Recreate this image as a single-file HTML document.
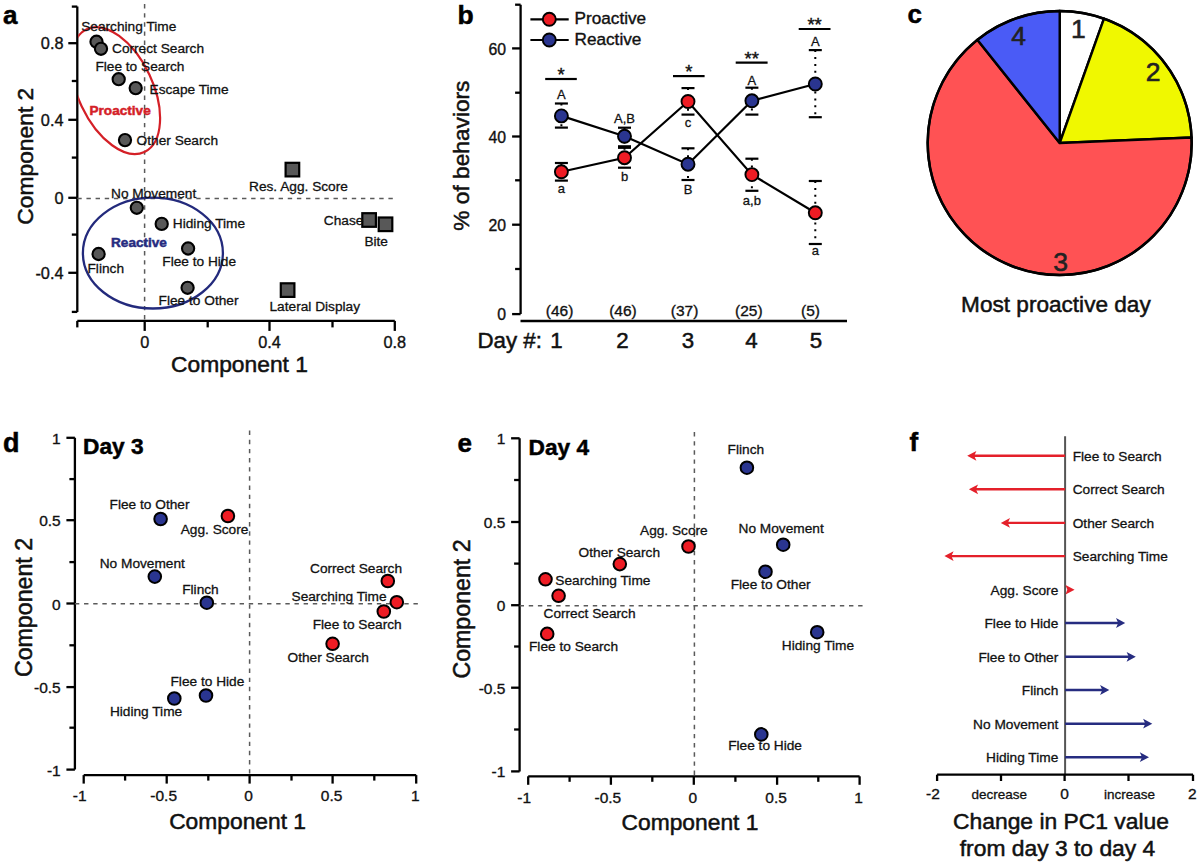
<!DOCTYPE html>
<html><head><meta charset="utf-8"><style>
html,body{margin:0;padding:0;background:#fff;width:1200px;height:867px;overflow:hidden}
svg{display:block}
text{font-family:"Liberation Sans", sans-serif}
</style></head><body>
<svg width="1200" height="867" viewBox="0 0 1200 867">
<rect width="1200" height="867" fill="#fff"/>
<text x="3" y="24" font-size="26" text-anchor="start" font-weight="bold" fill="#000" stroke="#000" stroke-width="0.50" >a</text>
<line x1="77.3" y1="6.6" x2="77.3" y2="312" stroke="#000" stroke-width="2.3" />
<line x1="71.8" y1="6.6" x2="77.3" y2="6.6" stroke="#000" stroke-width="2.3" />
<line x1="68.3" y1="43.2" x2="77.3" y2="43.2" stroke="#000" stroke-width="2.3" />
<line x1="71.8" y1="81" x2="77.3" y2="81" stroke="#000" stroke-width="2.3" />
<line x1="68.3" y1="119.8" x2="77.3" y2="119.8" stroke="#000" stroke-width="2.3" />
<line x1="71.8" y1="157.6" x2="77.3" y2="157.6" stroke="#000" stroke-width="2.3" />
<line x1="68.3" y1="197.8" x2="77.3" y2="197.8" stroke="#000" stroke-width="2.3" />
<line x1="71.8" y1="234.6" x2="77.3" y2="234.6" stroke="#000" stroke-width="2.3" />
<line x1="68.3" y1="272.8" x2="77.3" y2="272.8" stroke="#000" stroke-width="2.3" />
<line x1="71.8" y1="311.9" x2="77.3" y2="311.9" stroke="#000" stroke-width="2.3" />
<text x="63.5" y="49.0" font-size="16.3" text-anchor="end" font-weight="normal" fill="#111" stroke="#111" stroke-width="0.36" >0.8</text>
<text x="63.5" y="125.6" font-size="16.3" text-anchor="end" font-weight="normal" fill="#111" stroke="#111" stroke-width="0.36" >0.4</text>
<text x="63.5" y="203.60000000000002" font-size="16.3" text-anchor="end" font-weight="normal" fill="#111" stroke="#111" stroke-width="0.36" >0</text>
<text x="63.5" y="278.6" font-size="16.3" text-anchor="end" font-weight="normal" fill="#111" stroke="#111" stroke-width="0.36" >-0.4</text>
<line x1="77.3" y1="320.9" x2="394.8" y2="320.9" stroke="#000" stroke-width="2.3" />
<line x1="77.3" y1="320.9" x2="77.3" y2="327.4" stroke="#000" stroke-width="2.3" />
<line x1="144.7" y1="320.9" x2="144.7" y2="330.9" stroke="#000" stroke-width="2.3" />
<line x1="207.7" y1="320.9" x2="207.7" y2="327.4" stroke="#000" stroke-width="2.3" />
<line x1="269.5" y1="320.9" x2="269.5" y2="330.9" stroke="#000" stroke-width="2.3" />
<line x1="332.5" y1="320.9" x2="332.5" y2="327.4" stroke="#000" stroke-width="2.3" />
<line x1="394.8" y1="320.9" x2="394.8" y2="330.9" stroke="#000" stroke-width="2.3" />
<text x="144.7" y="348.3" font-size="16.3" text-anchor="middle" font-weight="normal" fill="#111" stroke="#111" stroke-width="0.36" >0</text>
<text x="269.5" y="348.3" font-size="16.3" text-anchor="middle" font-weight="normal" fill="#111" stroke="#111" stroke-width="0.36" >0.4</text>
<text x="394.8" y="348.3" font-size="16.3" text-anchor="middle" font-weight="normal" fill="#111" stroke="#111" stroke-width="0.36" >0.8</text>
<text x="239.5" y="372.2" font-size="22.8" text-anchor="middle" font-weight="normal" fill="#111" stroke="#111" stroke-width="0.51" >Component 1</text>
<text x="0" y="0" font-size="22.8" text-anchor="middle" font-weight="normal" fill="#111" stroke="#111" stroke-width="0.51" transform="translate(33,156.2) rotate(-90)">Component 2</text>
<line x1="144.6" y1="4" x2="144.6" y2="320" stroke="#5a5a5a" stroke-width="1.5" stroke-dasharray="4.4,4.75"/>
<line x1="77.3" y1="198.6" x2="393" y2="198.6" stroke="#5a5a5a" stroke-width="1.5" stroke-dasharray="4.4,4.75"/>
<clipPath id="ca"><rect x="78.2" y="0" width="400" height="400"/></clipPath>
<g clip-path="url(#ca)"><ellipse cx="115.6" cy="90.6" rx="67.8" ry="37.4" transform="rotate(64.8 115.6 90.6)" fill="none" stroke="#d42027" stroke-width="2.2"/></g>
<ellipse cx="152.9" cy="253.1" rx="70" ry="55.4" fill="none" stroke="#232a7c" stroke-width="2.3"/>
<circle cx="96.5" cy="41.7" r="6.1" fill="#585858" stroke="#000" stroke-width="2.1"/>
<circle cx="101" cy="48.8" r="6.1" fill="#585858" stroke="#000" stroke-width="2.1"/>
<circle cx="118.7" cy="79.2" r="6.1" fill="#585858" stroke="#000" stroke-width="2.1"/>
<circle cx="135.7" cy="88.1" r="6.1" fill="#585858" stroke="#000" stroke-width="2.1"/>
<circle cx="125" cy="140.1" r="6.1" fill="#585858" stroke="#000" stroke-width="2.1"/>
<circle cx="136.8" cy="207.8" r="6.1" fill="#585858" stroke="#000" stroke-width="2.1"/>
<circle cx="161.7" cy="223.9" r="6.1" fill="#585858" stroke="#000" stroke-width="2.1"/>
<circle cx="98.6" cy="254" r="6.1" fill="#585858" stroke="#000" stroke-width="2.1"/>
<circle cx="188.1" cy="248.5" r="6.1" fill="#585858" stroke="#000" stroke-width="2.1"/>
<circle cx="187.6" cy="287.8" r="6.1" fill="#585858" stroke="#000" stroke-width="2.1"/>
<rect x="285.59999999999997" y="162.79999999999998" width="13.6" height="13.6" fill="#585858" stroke="#000" stroke-width="2.2"/>
<rect x="362.3" y="213.2" width="13.6" height="13.6" fill="#585858" stroke="#000" stroke-width="2.2"/>
<rect x="378.7" y="217.5" width="13.6" height="13.6" fill="#585858" stroke="#000" stroke-width="2.2"/>
<rect x="280.8" y="283.3" width="13.6" height="13.6" fill="#585858" stroke="#000" stroke-width="2.2"/>
<text x="81.2" y="31.2" font-size="13.7" text-anchor="start" font-weight="normal" fill="#111" stroke="#111" stroke-width="0.30" >Searching Time</text>
<text x="112" y="53.4" font-size="13.7" text-anchor="start" font-weight="normal" fill="#111" stroke="#111" stroke-width="0.30" >Correct Search</text>
<text x="95.4" y="70.9" font-size="13.7" text-anchor="start" font-weight="normal" fill="#111" stroke="#111" stroke-width="0.30" >Flee to Search</text>
<text x="149.5" y="94" font-size="13.7" text-anchor="start" font-weight="normal" fill="#111" stroke="#111" stroke-width="0.30" >Escape Time</text>
<text x="136.6" y="144.7" font-size="13.7" text-anchor="start" font-weight="normal" fill="#111" stroke="#111" stroke-width="0.30" >Other Search</text>
<text x="111" y="197.7" font-size="13.7" text-anchor="start" font-weight="normal" fill="#111" stroke="#111" stroke-width="0.30" >No Movement</text>
<text x="172.8" y="227.6" font-size="13.7" text-anchor="start" font-weight="normal" fill="#111" stroke="#111" stroke-width="0.30" >Hiding Time</text>
<text x="87.5" y="273.4" font-size="13.7" text-anchor="start" font-weight="normal" fill="#111" stroke="#111" stroke-width="0.30" >Flinch</text>
<text x="162.3" y="266.4" font-size="13.7" text-anchor="start" font-weight="normal" fill="#111" stroke="#111" stroke-width="0.30" >Flee to Hide</text>
<text x="158.6" y="304.8" font-size="13.7" text-anchor="start" font-weight="normal" fill="#111" stroke="#111" stroke-width="0.30" >Flee to Other</text>
<text x="249" y="191" font-size="13.7" text-anchor="start" font-weight="normal" fill="#111" stroke="#111" stroke-width="0.30" >Res. Agg. Score</text>
<text x="323.8" y="224.8" font-size="13.7" text-anchor="start" font-weight="normal" fill="#111" stroke="#111" stroke-width="0.30" >Chase</text>
<text x="364.4" y="246" font-size="13.7" text-anchor="start" font-weight="normal" fill="#111" stroke="#111" stroke-width="0.30" >Bite</text>
<text x="269.5" y="310.5" font-size="13.7" text-anchor="start" font-weight="normal" fill="#111" stroke="#111" stroke-width="0.30" >Lateral Display</text>
<text x="89.5" y="115.2" font-size="13.6" text-anchor="start" font-weight="bold" fill="#d42027" stroke="#d42027" stroke-width="0.50" >Proactive</text>
<text x="111" y="246.6" font-size="13.6" text-anchor="start" font-weight="bold" fill="#262b7f" stroke="#262b7f" stroke-width="0.50" >Reactive</text>
<text x="457.5" y="23.5" font-size="26.5" text-anchor="start" font-weight="bold" fill="#000" stroke="#000" stroke-width="0.50" >b</text>
<line x1="520.6" y1="4.7" x2="520.6" y2="314.1" stroke="#000" stroke-width="2.3" />
<line x1="515.1" y1="4.7" x2="520.6" y2="4.7" stroke="#000" stroke-width="2.3" />
<line x1="512.1" y1="48.4" x2="520.6" y2="48.4" stroke="#000" stroke-width="2.3" />
<text x="506" y="54.6" font-size="15.8" text-anchor="end" font-weight="normal" fill="#111" stroke="#111" stroke-width="0.35" >60</text>
<line x1="515.1" y1="92.7" x2="520.6" y2="92.7" stroke="#000" stroke-width="2.3" />
<line x1="512.1" y1="136.5" x2="520.6" y2="136.5" stroke="#000" stroke-width="2.3" />
<text x="506" y="142.7" font-size="15.8" text-anchor="end" font-weight="normal" fill="#111" stroke="#111" stroke-width="0.35" >40</text>
<line x1="515.1" y1="180.3" x2="520.6" y2="180.3" stroke="#000" stroke-width="2.3" />
<line x1="512.1" y1="224.7" x2="520.6" y2="224.7" stroke="#000" stroke-width="2.3" />
<text x="506" y="230.89999999999998" font-size="15.8" text-anchor="end" font-weight="normal" fill="#111" stroke="#111" stroke-width="0.35" >20</text>
<line x1="515.1" y1="269" x2="520.6" y2="269" stroke="#000" stroke-width="2.3" />
<line x1="512.1" y1="314.1" x2="520.6" y2="314.1" stroke="#000" stroke-width="2.3" />
<text x="506" y="320.3" font-size="15.8" text-anchor="end" font-weight="normal" fill="#111" stroke="#111" stroke-width="0.35" >0</text>
<text x="0" y="0" font-size="22.7" text-anchor="middle" font-weight="normal" fill="#111" stroke="#111" stroke-width="0.50" transform="translate(469,155.6) rotate(-90)">% of behaviors</text>
<line x1="520.5" y1="321" x2="847" y2="321" stroke="#000" stroke-width="2.3" />
<line x1="561.4" y1="103.5" x2="561.4" y2="127.6" stroke="#000" stroke-width="2" stroke-dasharray="2,4.9"/>
<line x1="561.4" y1="163" x2="561.4" y2="180.6" stroke="#000" stroke-width="2" stroke-dasharray="2,4.9"/>
<line x1="624.5" y1="127.7" x2="624.5" y2="146.3" stroke="#000" stroke-width="2" stroke-dasharray="2,4.9"/>
<line x1="624.5" y1="147.8" x2="624.5" y2="167.7" stroke="#000" stroke-width="2" stroke-dasharray="2,4.9"/>
<line x1="688" y1="148.3" x2="688" y2="180" stroke="#000" stroke-width="2" stroke-dasharray="2,4.9"/>
<line x1="688" y1="88.1" x2="688" y2="114.6" stroke="#000" stroke-width="2" stroke-dasharray="2,4.9"/>
<line x1="751.9" y1="87.7" x2="751.9" y2="114.6" stroke="#000" stroke-width="2" stroke-dasharray="2,4.9"/>
<line x1="751.9" y1="158.7" x2="751.9" y2="190.8" stroke="#000" stroke-width="2" stroke-dasharray="2,4.9"/>
<line x1="815.3" y1="50.1" x2="815.3" y2="117.2" stroke="#000" stroke-width="2" stroke-dasharray="2,4.9"/>
<line x1="815.3" y1="181" x2="815.3" y2="244" stroke="#000" stroke-width="2" stroke-dasharray="2,4.9"/>
<polyline points="561.4,115.9 624.5,136.3 688,164.2 751.9,100.8 815.3,84" fill="none" stroke="#000" stroke-width="2.2"/>
<polyline points="561.4,171.8 624.5,157.7 688,101.5 751.9,174.6 815.3,212.8" fill="none" stroke="#000" stroke-width="2.2"/>
<line x1="554.9" y1="103.5" x2="567.9" y2="103.5" stroke="#000" stroke-width="2.2" />
<line x1="554.9" y1="127.6" x2="567.9" y2="127.6" stroke="#000" stroke-width="2.2" />
<line x1="554.9" y1="163" x2="567.9" y2="163" stroke="#000" stroke-width="2.2" />
<line x1="554.9" y1="180.6" x2="567.9" y2="180.6" stroke="#000" stroke-width="2.2" />
<line x1="618.0" y1="127.7" x2="631.0" y2="127.7" stroke="#000" stroke-width="2.2" />
<line x1="618.0" y1="146.3" x2="631.0" y2="146.3" stroke="#000" stroke-width="2.2" />
<line x1="618.0" y1="147.8" x2="631.0" y2="147.8" stroke="#000" stroke-width="2.2" />
<line x1="618.0" y1="167.7" x2="631.0" y2="167.7" stroke="#000" stroke-width="2.2" />
<line x1="681.5" y1="148.3" x2="694.5" y2="148.3" stroke="#000" stroke-width="2.2" />
<line x1="681.5" y1="180" x2="694.5" y2="180" stroke="#000" stroke-width="2.2" />
<line x1="681.5" y1="88.1" x2="694.5" y2="88.1" stroke="#000" stroke-width="2.2" />
<line x1="681.5" y1="114.6" x2="694.5" y2="114.6" stroke="#000" stroke-width="2.2" />
<line x1="745.4" y1="87.7" x2="758.4" y2="87.7" stroke="#000" stroke-width="2.2" />
<line x1="745.4" y1="114.6" x2="758.4" y2="114.6" stroke="#000" stroke-width="2.2" />
<line x1="745.4" y1="158.7" x2="758.4" y2="158.7" stroke="#000" stroke-width="2.2" />
<line x1="745.4" y1="190.8" x2="758.4" y2="190.8" stroke="#000" stroke-width="2.2" />
<line x1="808.8" y1="50.1" x2="821.8" y2="50.1" stroke="#000" stroke-width="2.2" />
<line x1="808.8" y1="117.2" x2="821.8" y2="117.2" stroke="#000" stroke-width="2.2" />
<line x1="808.8" y1="181" x2="821.8" y2="181" stroke="#000" stroke-width="2.2" />
<line x1="808.8" y1="244" x2="821.8" y2="244" stroke="#000" stroke-width="2.2" />
<circle cx="561.4" cy="115.9" r="6.5" fill="#2a3590" stroke="#000" stroke-width="1.9"/>
<circle cx="624.5" cy="136.3" r="6.5" fill="#2a3590" stroke="#000" stroke-width="1.9"/>
<circle cx="688" cy="164.2" r="6.5" fill="#2a3590" stroke="#000" stroke-width="1.9"/>
<circle cx="751.9" cy="100.8" r="6.5" fill="#2a3590" stroke="#000" stroke-width="1.9"/>
<circle cx="815.3" cy="84" r="6.5" fill="#2a3590" stroke="#000" stroke-width="1.9"/>
<circle cx="561.4" cy="171.8" r="6.5" fill="#ee1c24" stroke="#000" stroke-width="1.9"/>
<circle cx="624.5" cy="157.7" r="6.5" fill="#ee1c24" stroke="#000" stroke-width="1.9"/>
<circle cx="688" cy="101.5" r="6.5" fill="#ee1c24" stroke="#000" stroke-width="1.9"/>
<circle cx="751.9" cy="174.6" r="6.5" fill="#ee1c24" stroke="#000" stroke-width="1.9"/>
<circle cx="815.3" cy="212.8" r="6.5" fill="#ee1c24" stroke="#000" stroke-width="1.9"/>
<line x1="530.4" y1="19.3" x2="568.7" y2="19.3" stroke="#000" stroke-width="2.2" />
<circle cx="549.3" cy="19.3" r="6.5" fill="#ee1c24" stroke="#000" stroke-width="1.9"/>
<line x1="530.4" y1="40" x2="568.7" y2="40" stroke="#000" stroke-width="2.2" />
<circle cx="549.3" cy="40" r="6.5" fill="#2a3590" stroke="#000" stroke-width="1.9"/>
<text x="574.5" y="23.8" font-size="17.2" text-anchor="start" font-weight="normal" fill="#111" stroke="#111" stroke-width="0.38" >Proactive</text>
<text x="574.5" y="44.5" font-size="17.2" text-anchor="start" font-weight="normal" fill="#111" stroke="#111" stroke-width="0.38" >Reactive</text>
<line x1="545.2" y1="79" x2="576.8" y2="79" stroke="#000" stroke-width="2.2" />
<text x="561.0" y="81.2" font-size="18.5" text-anchor="middle" font-weight="normal" fill="#111" stroke="#111" stroke-width="0.41" >*</text>
<line x1="673" y1="76.1" x2="704.6" y2="76.1" stroke="#000" stroke-width="2.2" />
<text x="688.8" y="78.3" font-size="18.5" text-anchor="middle" font-weight="normal" fill="#111" stroke="#111" stroke-width="0.41" >*</text>
<line x1="735.7" y1="62.7" x2="767.6" y2="62.7" stroke="#000" stroke-width="2.2" />
<text x="751.6500000000001" y="64.9" font-size="18.5" text-anchor="middle" font-weight="normal" fill="#111" stroke="#111" stroke-width="0.41" >**</text>
<line x1="798.7" y1="29" x2="830.5" y2="29" stroke="#000" stroke-width="2.2" />
<text x="814.6" y="31.2" font-size="18.5" text-anchor="middle" font-weight="normal" fill="#111" stroke="#111" stroke-width="0.41" >**</text>
<text x="561.4" y="98.7" font-size="13" text-anchor="middle" font-weight="normal" fill="#111" stroke="#111" stroke-width="0.29" >A</text>
<text x="561.4" y="193" font-size="13" text-anchor="middle" font-weight="normal" fill="#111" stroke="#111" stroke-width="0.29" >a</text>
<text x="624.5" y="123.1" font-size="13" text-anchor="middle" font-weight="normal" fill="#111" stroke="#111" stroke-width="0.29" >A,B</text>
<text x="624.5" y="180.7" font-size="13" text-anchor="middle" font-weight="normal" fill="#111" stroke="#111" stroke-width="0.29" >b</text>
<text x="688" y="126.9" font-size="13" text-anchor="middle" font-weight="normal" fill="#111" stroke="#111" stroke-width="0.29" >c</text>
<text x="688" y="193.8" font-size="13" text-anchor="middle" font-weight="normal" fill="#111" stroke="#111" stroke-width="0.29" >B</text>
<text x="751.9" y="84.7" font-size="13" text-anchor="middle" font-weight="normal" fill="#111" stroke="#111" stroke-width="0.29" >A</text>
<text x="751.9" y="205.4" font-size="13" text-anchor="middle" font-weight="normal" fill="#111" stroke="#111" stroke-width="0.29" >a,b</text>
<text x="815.3" y="46.2" font-size="13" text-anchor="middle" font-weight="normal" fill="#111" stroke="#111" stroke-width="0.29" >A</text>
<text x="815.3" y="254.6" font-size="13" text-anchor="middle" font-weight="normal" fill="#111" stroke="#111" stroke-width="0.29" >a</text>
<text x="559.6" y="315.5" font-size="15.5" text-anchor="middle" font-weight="normal" fill="#111" stroke="#111" stroke-width="0.34" >(46)</text>
<text x="623" y="315.5" font-size="15.5" text-anchor="middle" font-weight="normal" fill="#111" stroke="#111" stroke-width="0.34" >(46)</text>
<text x="684.6" y="315.5" font-size="15.5" text-anchor="middle" font-weight="normal" fill="#111" stroke="#111" stroke-width="0.34" >(37)</text>
<text x="748.8" y="315.5" font-size="15.5" text-anchor="middle" font-weight="normal" fill="#111" stroke="#111" stroke-width="0.34" >(25)</text>
<text x="810.5" y="315.5" font-size="15.5" text-anchor="middle" font-weight="normal" fill="#111" stroke="#111" stroke-width="0.34" >(5)</text>
<text x="477.5" y="347.7" font-size="22.3" text-anchor="start" font-weight="normal" fill="#111" stroke="#111" stroke-width="0.50" >Day #:</text>
<text x="556.5" y="347.7" font-size="22.3" text-anchor="middle" font-weight="normal" fill="#111" stroke="#111" stroke-width="0.50" >1</text>
<text x="622.5" y="347.7" font-size="22.3" text-anchor="middle" font-weight="normal" fill="#111" stroke="#111" stroke-width="0.50" >2</text>
<text x="688" y="347.7" font-size="22.3" text-anchor="middle" font-weight="normal" fill="#111" stroke="#111" stroke-width="0.50" >3</text>
<text x="751.5" y="347.7" font-size="22.3" text-anchor="middle" font-weight="normal" fill="#111" stroke="#111" stroke-width="0.50" >4</text>
<text x="816" y="347.7" font-size="22.3" text-anchor="middle" font-weight="normal" fill="#111" stroke="#111" stroke-width="0.50" >5</text>
<text x="907.5" y="23" font-size="26" text-anchor="start" font-weight="bold" fill="#000" stroke="#000" stroke-width="0.50" >c</text>
<path d="M1059.7,143 L1059.70,11.00 A132,132 0 0 1 1103.98,18.65 Z" fill="#ffffff" stroke="#000" stroke-width="2.4" stroke-linejoin="round"/>
<path d="M1059.7,143 L1103.98,18.65 A132,132 0 0 1 1191.58,137.47 Z" fill="#f0f800" stroke="#000" stroke-width="2.4" stroke-linejoin="round"/>
<path d="M1059.7,143 L1191.58,137.47 A132,132 0 1 1 977.35,39.84 Z" fill="#ff5254" stroke="#000" stroke-width="2.4" stroke-linejoin="round"/>
<path d="M1059.7,143 L977.35,39.84 A132,132 0 0 1 1059.70,11.00 Z" fill="#4a5bf6" stroke="#000" stroke-width="2.4" stroke-linejoin="round"/>
<circle cx="1059.7" cy="143" r="132" fill="none" stroke="#000" stroke-width="2.5"/>
<text x="1078.3" y="37.8" font-size="26.5" text-anchor="middle" font-weight="normal" fill="#222" stroke="#222" stroke-width="0.59" >1</text>
<text x="1153" y="81.2" font-size="26.5" text-anchor="middle" font-weight="normal" fill="#222" stroke="#222" stroke-width="0.59" >2</text>
<text x="1018.6" y="45.2" font-size="26.5" text-anchor="middle" font-weight="normal" fill="#222" stroke="#222" stroke-width="0.59" >4</text>
<text x="1060.7" y="271.3" font-size="26.5" text-anchor="middle" font-weight="normal" fill="#222" stroke="#222" stroke-width="0.59" >3</text>
<text x="1055.9" y="311.7" font-size="22.6" text-anchor="middle" font-weight="normal" fill="#111" stroke="#111" stroke-width="0.50" >Most proactive day</text>
<text x="3" y="451.8" font-size="27" text-anchor="start" font-weight="bold" fill="#000" stroke="#000" stroke-width="0.50" >d</text>
<text x="83" y="454.3" font-size="22.7" text-anchor="start" font-weight="bold" fill="#000" stroke="#000" stroke-width="0.50" >Day 3</text>
<line x1="74.9" y1="437.8" x2="74.9" y2="769.6" stroke="#000" stroke-width="2.3" />
<line x1="66.4" y1="437.8" x2="74.9" y2="437.8" stroke="#000" stroke-width="2.3" />
<line x1="69.4" y1="479.1" x2="74.9" y2="479.1" stroke="#000" stroke-width="2.3" />
<line x1="66.4" y1="520.2" x2="74.9" y2="520.2" stroke="#000" stroke-width="2.3" />
<line x1="69.4" y1="562.1" x2="74.9" y2="562.1" stroke="#000" stroke-width="2.3" />
<line x1="66.4" y1="603.5" x2="74.9" y2="603.5" stroke="#000" stroke-width="2.3" />
<line x1="69.4" y1="645.3" x2="74.9" y2="645.3" stroke="#000" stroke-width="2.3" />
<line x1="66.4" y1="687.1" x2="74.9" y2="687.1" stroke="#000" stroke-width="2.3" />
<line x1="69.4" y1="727.7" x2="74.9" y2="727.7" stroke="#000" stroke-width="2.3" />
<line x1="66.4" y1="769.6" x2="74.9" y2="769.6" stroke="#000" stroke-width="2.3" />
<text x="60.7" y="443.8" font-size="15.5" text-anchor="end" font-weight="normal" fill="#111" stroke="#111" stroke-width="0.34" >1</text>
<text x="60.7" y="526.2" font-size="15.5" text-anchor="end" font-weight="normal" fill="#111" stroke="#111" stroke-width="0.34" >0.5</text>
<text x="60.7" y="609.5" font-size="15.5" text-anchor="end" font-weight="normal" fill="#111" stroke="#111" stroke-width="0.34" >0</text>
<text x="60.7" y="693.1" font-size="15.5" text-anchor="end" font-weight="normal" fill="#111" stroke="#111" stroke-width="0.34" >-0.5</text>
<text x="60.7" y="775.6" font-size="15.5" text-anchor="end" font-weight="normal" fill="#111" stroke="#111" stroke-width="0.34" >-1</text>
<line x1="83.7" y1="775.1" x2="416.2" y2="775.1" stroke="#000" stroke-width="2.3" />
<line x1="83.7" y1="775.1" x2="83.7" y2="783.6" stroke="#000" stroke-width="2.3" />
<line x1="125.1" y1="775.1" x2="125.1" y2="780.6" stroke="#000" stroke-width="2.3" />
<line x1="166.7" y1="775.1" x2="166.7" y2="783.6" stroke="#000" stroke-width="2.3" />
<line x1="208.3" y1="775.1" x2="208.3" y2="780.6" stroke="#000" stroke-width="2.3" />
<line x1="249.6" y1="775.1" x2="249.6" y2="783.6" stroke="#000" stroke-width="2.3" />
<line x1="291.5" y1="775.1" x2="291.5" y2="780.6" stroke="#000" stroke-width="2.3" />
<line x1="332.6" y1="775.1" x2="332.6" y2="783.6" stroke="#000" stroke-width="2.3" />
<line x1="374.3" y1="775.1" x2="374.3" y2="780.6" stroke="#000" stroke-width="2.3" />
<line x1="416.2" y1="775.1" x2="416.2" y2="783.6" stroke="#000" stroke-width="2.3" />
<text x="79.7" y="801.4" font-size="15.5" text-anchor="middle" font-weight="normal" fill="#111" stroke="#111" stroke-width="0.34" >-1</text>
<text x="163.7" y="801.4" font-size="15.5" text-anchor="middle" font-weight="normal" fill="#111" stroke="#111" stroke-width="0.34" >-0.5</text>
<text x="248.6" y="801.4" font-size="15.5" text-anchor="middle" font-weight="normal" fill="#111" stroke="#111" stroke-width="0.34" >0</text>
<text x="331.6" y="801.4" font-size="15.5" text-anchor="middle" font-weight="normal" fill="#111" stroke="#111" stroke-width="0.34" >0.5</text>
<text x="415.2" y="801.4" font-size="15.5" text-anchor="middle" font-weight="normal" fill="#111" stroke="#111" stroke-width="0.34" >1</text>
<text x="237.6" y="829.3" font-size="22.8" text-anchor="middle" font-weight="normal" fill="#111" stroke="#111" stroke-width="0.51" >Component 1</text>
<text x="0" y="0" font-size="23.2" text-anchor="middle" font-weight="normal" fill="#111" stroke="#111" stroke-width="0.52" transform="translate(31.5,607.5) rotate(-90)">Component 2</text>
<line x1="249.6" y1="430.6" x2="249.6" y2="775.1" stroke="#5a5a5a" stroke-width="1.5" stroke-dasharray="4.4,4.75"/>
<line x1="74.9" y1="603.8" x2="418.8" y2="603.8" stroke="#5a5a5a" stroke-width="1.5" stroke-dasharray="4.4,4.75"/>
<circle cx="160.6" cy="519" r="6.3" fill="#2a3590" stroke="#000" stroke-width="2"/>
<circle cx="154.8" cy="576.6" r="6.3" fill="#2a3590" stroke="#000" stroke-width="2"/>
<circle cx="206.8" cy="602.7" r="6.3" fill="#2a3590" stroke="#000" stroke-width="2"/>
<circle cx="174.3" cy="698.5" r="6.3" fill="#2a3590" stroke="#000" stroke-width="2"/>
<circle cx="206" cy="695.5" r="6.3" fill="#2a3590" stroke="#000" stroke-width="2"/>
<circle cx="227.9" cy="516" r="6.3" fill="#ee1c24" stroke="#000" stroke-width="2"/>
<circle cx="387.8" cy="581" r="6.3" fill="#ee1c24" stroke="#000" stroke-width="2"/>
<circle cx="396.8" cy="602.2" r="6.3" fill="#ee1c24" stroke="#000" stroke-width="2"/>
<circle cx="383.8" cy="611.5" r="6.3" fill="#ee1c24" stroke="#000" stroke-width="2"/>
<circle cx="332.6" cy="643.8" r="6.3" fill="#ee1c24" stroke="#000" stroke-width="2"/>
<text x="109.6" y="508.8" font-size="13.7" text-anchor="start" font-weight="normal" fill="#111" stroke="#111" stroke-width="0.30" >Flee to Other</text>
<text x="99.7" y="568.4" font-size="13.7" text-anchor="start" font-weight="normal" fill="#111" stroke="#111" stroke-width="0.30" >No Movement</text>
<text x="182.2" y="593.8" font-size="13.7" text-anchor="start" font-weight="normal" fill="#111" stroke="#111" stroke-width="0.30" >Flinch</text>
<text x="180.7" y="533.7" font-size="13.7" text-anchor="start" font-weight="normal" fill="#111" stroke="#111" stroke-width="0.30" >Agg. Score</text>
<text x="310" y="573.3" font-size="13.7" text-anchor="start" font-weight="normal" fill="#111" stroke="#111" stroke-width="0.30" >Correct Search</text>
<text x="291.5" y="601.2" font-size="13.7" text-anchor="start" font-weight="normal" fill="#111" stroke="#111" stroke-width="0.30" >Searching Time</text>
<text x="312.7" y="628.8" font-size="13.7" text-anchor="start" font-weight="normal" fill="#111" stroke="#111" stroke-width="0.30" >Flee to Search</text>
<text x="287.5" y="662.4" font-size="13.7" text-anchor="start" font-weight="normal" fill="#111" stroke="#111" stroke-width="0.30" >Other Search</text>
<text x="170.5" y="686.3" font-size="13.7" text-anchor="start" font-weight="normal" fill="#111" stroke="#111" stroke-width="0.30" >Flee to Hide</text>
<text x="109.9" y="716.3" font-size="13.7" text-anchor="start" font-weight="normal" fill="#111" stroke="#111" stroke-width="0.30" >Hiding Time</text>
<text x="457.5" y="451.7" font-size="26" text-anchor="start" font-weight="bold" fill="#000" stroke="#000" stroke-width="0.50" >e</text>
<text x="528.5" y="454.8" font-size="22.7" text-anchor="start" font-weight="bold" fill="#000" stroke="#000" stroke-width="0.50" >Day 4</text>
<line x1="519.6" y1="438.3" x2="519.6" y2="771.4" stroke="#000" stroke-width="2.3" />
<line x1="511.1" y1="438.3" x2="519.6" y2="438.3" stroke="#000" stroke-width="2.3" />
<line x1="514.1" y1="480" x2="519.6" y2="480" stroke="#000" stroke-width="2.3" />
<line x1="511.1" y1="522" x2="519.6" y2="522" stroke="#000" stroke-width="2.3" />
<line x1="514.1" y1="563.6" x2="519.6" y2="563.6" stroke="#000" stroke-width="2.3" />
<line x1="511.1" y1="605.2" x2="519.6" y2="605.2" stroke="#000" stroke-width="2.3" />
<line x1="514.1" y1="646.5" x2="519.6" y2="646.5" stroke="#000" stroke-width="2.3" />
<line x1="511.1" y1="687.7" x2="519.6" y2="687.7" stroke="#000" stroke-width="2.3" />
<line x1="514.1" y1="729.5" x2="519.6" y2="729.5" stroke="#000" stroke-width="2.3" />
<line x1="511.1" y1="771.4" x2="519.6" y2="771.4" stroke="#000" stroke-width="2.3" />
<text x="505.40000000000003" y="444.3" font-size="15.5" text-anchor="end" font-weight="normal" fill="#111" stroke="#111" stroke-width="0.34" >1</text>
<text x="505.40000000000003" y="528" font-size="15.5" text-anchor="end" font-weight="normal" fill="#111" stroke="#111" stroke-width="0.34" >0.5</text>
<text x="505.40000000000003" y="611.2" font-size="15.5" text-anchor="end" font-weight="normal" fill="#111" stroke="#111" stroke-width="0.34" >0</text>
<text x="505.40000000000003" y="693.7" font-size="15.5" text-anchor="end" font-weight="normal" fill="#111" stroke="#111" stroke-width="0.34" >-0.5</text>
<text x="505.40000000000003" y="777.4" font-size="15.5" text-anchor="end" font-weight="normal" fill="#111" stroke="#111" stroke-width="0.34" >-1</text>
<line x1="528.2" y1="776.3" x2="859.6" y2="776.3" stroke="#000" stroke-width="2.3" />
<line x1="528.2" y1="776.3" x2="528.2" y2="784.8" stroke="#000" stroke-width="2.3" />
<line x1="569.6" y1="776.3" x2="569.6" y2="781.8" stroke="#000" stroke-width="2.3" />
<line x1="610.9" y1="776.3" x2="610.9" y2="784.8" stroke="#000" stroke-width="2.3" />
<line x1="652.3" y1="776.3" x2="652.3" y2="781.8" stroke="#000" stroke-width="2.3" />
<line x1="693.8" y1="776.3" x2="693.8" y2="784.8" stroke="#000" stroke-width="2.3" />
<line x1="735.4" y1="776.3" x2="735.4" y2="781.8" stroke="#000" stroke-width="2.3" />
<line x1="777.1" y1="776.3" x2="777.1" y2="784.8" stroke="#000" stroke-width="2.3" />
<line x1="818.3" y1="776.3" x2="818.3" y2="781.8" stroke="#000" stroke-width="2.3" />
<line x1="859.6" y1="776.3" x2="859.6" y2="784.8" stroke="#000" stroke-width="2.3" />
<text x="524.2" y="802.5999999999999" font-size="15.5" text-anchor="middle" font-weight="normal" fill="#111" stroke="#111" stroke-width="0.34" >-1</text>
<text x="607.9" y="802.5999999999999" font-size="15.5" text-anchor="middle" font-weight="normal" fill="#111" stroke="#111" stroke-width="0.34" >-0.5</text>
<text x="692.8" y="802.5999999999999" font-size="15.5" text-anchor="middle" font-weight="normal" fill="#111" stroke="#111" stroke-width="0.34" >0</text>
<text x="776.1" y="802.5999999999999" font-size="15.5" text-anchor="middle" font-weight="normal" fill="#111" stroke="#111" stroke-width="0.34" >0.5</text>
<text x="858.6" y="802.5999999999999" font-size="15.5" text-anchor="middle" font-weight="normal" fill="#111" stroke="#111" stroke-width="0.34" >1</text>
<text x="690" y="829.5" font-size="22.8" text-anchor="middle" font-weight="normal" fill="#111" stroke="#111" stroke-width="0.51" >Component 1</text>
<text x="0" y="0" font-size="23.2" text-anchor="middle" font-weight="normal" fill="#111" stroke="#111" stroke-width="0.52" transform="translate(469.5,609) rotate(-90)">Component 2</text>
<line x1="694.4" y1="432" x2="694.4" y2="776.3" stroke="#5a5a5a" stroke-width="1.5" stroke-dasharray="4.4,4.75"/>
<line x1="519.6" y1="605.7" x2="864" y2="605.7" stroke="#5a5a5a" stroke-width="1.5" stroke-dasharray="4.4,4.75"/>
<circle cx="545.5" cy="579.3" r="6.3" fill="#ee1c24" stroke="#000" stroke-width="2"/>
<circle cx="558.6" cy="595.8" r="6.3" fill="#ee1c24" stroke="#000" stroke-width="2"/>
<circle cx="619.8" cy="564.1" r="6.3" fill="#ee1c24" stroke="#000" stroke-width="2"/>
<circle cx="547.2" cy="633.9" r="6.3" fill="#ee1c24" stroke="#000" stroke-width="2"/>
<circle cx="688.5" cy="546.5" r="6.3" fill="#ee1c24" stroke="#000" stroke-width="2"/>
<circle cx="746.9" cy="467.7" r="6.3" fill="#2a3590" stroke="#000" stroke-width="2"/>
<circle cx="783.2" cy="544.7" r="6.3" fill="#2a3590" stroke="#000" stroke-width="2"/>
<circle cx="765.5" cy="571.7" r="6.3" fill="#2a3590" stroke="#000" stroke-width="2"/>
<circle cx="817.2" cy="632.2" r="6.3" fill="#2a3590" stroke="#000" stroke-width="2"/>
<circle cx="761.3" cy="734.4" r="6.3" fill="#2a3590" stroke="#000" stroke-width="2"/>
<text x="727.6" y="453.5" font-size="13.7" text-anchor="start" font-weight="normal" fill="#111" stroke="#111" stroke-width="0.30" >Flinch</text>
<text x="640" y="534.5" font-size="13.7" text-anchor="start" font-weight="normal" fill="#111" stroke="#111" stroke-width="0.30" >Agg. Score</text>
<text x="738.5" y="532.5" font-size="13.7" text-anchor="start" font-weight="normal" fill="#111" stroke="#111" stroke-width="0.30" >No Movement</text>
<text x="578.6" y="556.7" font-size="13.7" text-anchor="start" font-weight="normal" fill="#111" stroke="#111" stroke-width="0.30" >Other Search</text>
<text x="555.3" y="585" font-size="13.7" text-anchor="start" font-weight="normal" fill="#111" stroke="#111" stroke-width="0.30" >Searching Time</text>
<text x="730.7" y="589.2" font-size="13.7" text-anchor="start" font-weight="normal" fill="#111" stroke="#111" stroke-width="0.30" >Flee to Other</text>
<text x="543.5" y="617.6" font-size="13.7" text-anchor="start" font-weight="normal" fill="#111" stroke="#111" stroke-width="0.30" >Correct Search</text>
<text x="529" y="651.1" font-size="13.7" text-anchor="start" font-weight="normal" fill="#111" stroke="#111" stroke-width="0.30" >Flee to Search</text>
<text x="781.8" y="649.5" font-size="13.7" text-anchor="start" font-weight="normal" fill="#111" stroke="#111" stroke-width="0.30" >Hiding Time</text>
<text x="728.2" y="750.1" font-size="13.7" text-anchor="start" font-weight="normal" fill="#111" stroke="#111" stroke-width="0.30" >Flee to Hide</text>
<text x="909.5" y="451.4" font-size="26" text-anchor="start" font-weight="bold" fill="#000" stroke="#000" stroke-width="0.50" >f</text>
<line x1="1065.1" y1="436.3" x2="1065.1" y2="775" stroke="#555" stroke-width="2" />
<line x1="1065.1" y1="455.8" x2="971.2" y2="455.8" stroke="#e4202a" stroke-width="2.4" />
<path d="M967.2,455.8 L976.4000000000001,450.90000000000003 L974.2,455.8 L976.4000000000001,460.7 Z" fill="#e4202a"/>
<text x="1072.7" y="460.8" font-size="13.7" text-anchor="start" font-weight="normal" fill="#111" stroke="#111" stroke-width="0.30" >Flee to Search</text>
<line x1="1065.1" y1="489.3" x2="972.9" y2="489.3" stroke="#e4202a" stroke-width="2.4" />
<path d="M968.9,489.3 L978.1,484.40000000000003 L975.9,489.3 L978.1,494.2 Z" fill="#e4202a"/>
<text x="1072.7" y="494.3" font-size="13.7" text-anchor="start" font-weight="normal" fill="#111" stroke="#111" stroke-width="0.30" >Correct Search</text>
<line x1="1065.1" y1="522.9" x2="1004.8" y2="522.9" stroke="#e4202a" stroke-width="2.4" />
<path d="M1000.8,522.9 L1010.0,518.0 L1007.8,522.9 L1010.0,527.8 Z" fill="#e4202a"/>
<text x="1072.7" y="527.9" font-size="13.7" text-anchor="start" font-weight="normal" fill="#111" stroke="#111" stroke-width="0.30" >Other Search</text>
<line x1="1065.1" y1="556.1" x2="948.4" y2="556.1" stroke="#e4202a" stroke-width="2.4" />
<path d="M944.4,556.1 L953.6,551.2 L951.4,556.1 L953.6,561.0 Z" fill="#e4202a"/>
<text x="1072.7" y="561.1" font-size="13.7" text-anchor="start" font-weight="normal" fill="#111" stroke="#111" stroke-width="0.30" >Searching Time</text>
<path d="M1074.6,589.7 L1065.5,584.9 L1067.3,589.7 L1065.5,594.5 Z" fill="#e4202a"/>
<text x="1058.3" y="594.7" font-size="13.7" text-anchor="end" font-weight="normal" fill="#111" stroke="#111" stroke-width="0.30" >Agg. Score</text>
<line x1="1065.1" y1="623" x2="1121.2" y2="623" stroke="#262c80" stroke-width="2.4" />
<path d="M1125.2,623 L1116.0,618.1 L1118.2,623 L1116.0,627.9 Z" fill="#262c80"/>
<text x="1058.3" y="628" font-size="13.7" text-anchor="end" font-weight="normal" fill="#111" stroke="#111" stroke-width="0.30" >Flee to Hide</text>
<line x1="1065.1" y1="656.8" x2="1131.8" y2="656.8" stroke="#262c80" stroke-width="2.4" />
<path d="M1135.8,656.8 L1126.6,651.9 L1128.8,656.8 L1126.6,661.6999999999999 Z" fill="#262c80"/>
<text x="1058.3" y="661.8" font-size="13.7" text-anchor="end" font-weight="normal" fill="#111" stroke="#111" stroke-width="0.30" >Flee to Other</text>
<line x1="1065.1" y1="690" x2="1105.3" y2="690" stroke="#262c80" stroke-width="2.4" />
<path d="M1109.3,690 L1100.1,685.1 L1102.3,690 L1100.1,694.9 Z" fill="#262c80"/>
<text x="1058.3" y="695" font-size="13.7" text-anchor="end" font-weight="normal" fill="#111" stroke="#111" stroke-width="0.30" >Flinch</text>
<line x1="1065.1" y1="723.7" x2="1148.3" y2="723.7" stroke="#262c80" stroke-width="2.4" />
<path d="M1152.3,723.7 L1143.1,718.8000000000001 L1145.3,723.7 L1143.1,728.6 Z" fill="#262c80"/>
<text x="1058.3" y="728.7" font-size="13.7" text-anchor="end" font-weight="normal" fill="#111" stroke="#111" stroke-width="0.30" >No Movement</text>
<line x1="1065.1" y1="757.2" x2="1145" y2="757.2" stroke="#262c80" stroke-width="2.4" />
<path d="M1149,757.2 L1139.8,752.3000000000001 L1142.0,757.2 L1139.8,762.1 Z" fill="#262c80"/>
<text x="1058.3" y="762.2" font-size="13.7" text-anchor="end" font-weight="normal" fill="#111" stroke="#111" stroke-width="0.30" >Hiding Time</text>
<line x1="937.1" y1="774.7" x2="1193" y2="774.7" stroke="#000" stroke-width="2.3" />
<line x1="937.1" y1="774.7" x2="937.1" y2="781" stroke="#000" stroke-width="2.3" />
<line x1="1001" y1="774.7" x2="1001" y2="781" stroke="#000" stroke-width="2.3" />
<line x1="1064.6" y1="774.7" x2="1064.6" y2="781" stroke="#000" stroke-width="2.3" />
<line x1="1128.5" y1="774.7" x2="1128.5" y2="781" stroke="#000" stroke-width="2.3" />
<line x1="1193" y1="774.7" x2="1193" y2="781" stroke="#000" stroke-width="2.3" />
<text x="933" y="799.2" font-size="15.5" text-anchor="middle" font-weight="normal" fill="#111" stroke="#111" stroke-width="0.34" >-2</text>
<text x="1064.6" y="799.2" font-size="15.5" text-anchor="middle" font-weight="normal" fill="#111" stroke="#111" stroke-width="0.34" >0</text>
<text x="1192.4" y="799.2" font-size="15.5" text-anchor="middle" font-weight="normal" fill="#111" stroke="#111" stroke-width="0.34" >2</text>
<text x="999.3" y="799.2" font-size="13.5" text-anchor="middle" font-weight="normal" fill="#111" stroke="#111" stroke-width="0.30" >decrease</text>
<text x="1129.5" y="799.2" font-size="13.5" text-anchor="middle" font-weight="normal" fill="#111" stroke="#111" stroke-width="0.30" >increase</text>
<text x="1061" y="829" font-size="22.85" text-anchor="middle" font-weight="normal" fill="#111" stroke="#111" stroke-width="0.51" >Change in PC1 value</text>
<text x="1057.5" y="856.3" font-size="22.85" text-anchor="middle" font-weight="normal" fill="#111" stroke="#111" stroke-width="0.51" >from day 3 to day 4</text>
</svg></body></html>
